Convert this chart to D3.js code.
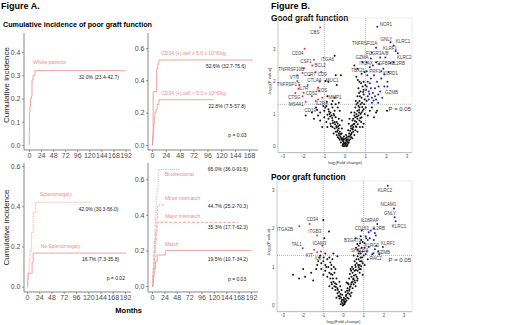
<!DOCTYPE html>
<html>
<head>
<meta charset="utf-8">
<script src="https://cdn.jsdelivr.net/npm/d3@7"></script>
<style>
  body { margin: 0; background: #fff; }
  svg { font-family: "Liberation Sans", Arial, sans-serif; }
</style>
</head>
<body>
<div id="chart"></div>
<script>
// ---------- Figure A data: cumulative incidence (month, value) ----------
const monthTicks192 = [0, 24, 48, 72, 96, 120, 144, 168, 192];
const monthTicks168 = [0, 24, 48, 72, 96, 120, 144, 168];

const wholePatients = [[0, 0], [0.5, 0.06], [1, 0.14], [2, 0.17], [3, 0.2], [5, 0.21], [6, 0.28], [8, 0.3], [12, 0.32], [192, 0.32]];

const cd34High = [[0, 0], [1, 0.05], [2, 0.33], [7, 0.33], [8, 0.47], [10, 0.5], [12, 0.526], [175, 0.526]];
const cd34Low = [[0, 0], [1, 0.03], [2, 0.08], [3, 0.13], [4, 0.17], [5, 0.2], [7, 0.22], [9, 0.25], [12, 0.28], [107, 0.28]];

const splenomegaly = [[0, 0], [2, 0.07], [4, 0.13], [6, 0.18], [9, 0.27], [12, 0.37], [17, 0.42], [123, 0.42]];
const noSplenomegaly = [[0, 0], [1, 0.035], [2, 0.067], [9, 0.067], [10, 0.12], [12, 0.167], [194, 0.167]];

const biDirectional = [[0, 0], [2, 0.1], [4, 0.25], [6, 0.4], [8, 0.5], [10, 0.55], [12, 0.655], [54, 0.655]];
const minorMismatch = [[0, 0], [2, 0.08], [4, 0.2], [6, 0.3], [8, 0.38], [11, 0.455], [23, 0.455]];
const majorMismatch = [[0, 0], [2, 0.06], [4, 0.15], [6, 0.25], [8, 0.31], [10, 0.358], [167, 0.358]];
const matchGroup = [[0, 0], [2, 0.05], [4, 0.1], [7, 0.14], [10, 0.174], [26, 0.2], [193, 0.2]];

// annotations: [text, month, value, kind]
const notesWhole = [
  ['Whole patients', 8, 0.357, 'group'],
  ['32.0% (23.4-42.7)', 139, 0.292, 'est']
];
const notesCd34 = [
  ['CD34 (+) cell \u2265 5.0 x 10^6/kg', 16, 0.565, 'group'],
  ['52.6% (32.7-75.6)', 128, 0.49, 'est'],
  ['CD34 (+) cell < 5.0 x 10^6/kg', 16, 0.32, 'group'],
  ['22.8% (7.5-57.8)', 130, 0.241, 'est'],
  ['p = 0.03', 148, 0.058, 'est']
];
const notesSpleen = [
  ['Splenomegaly', 25.5, 0.461, 'group'],
  ['42.0% (30.3-56.0)', 140, 0.385, 'est'],
  ['No Splenomegaly', 26.8, 0.2025, 'group'],
  ['16.7% (7.3-35.8)', 144, 0.138, 'est'],
  ['p = 0.02', 174, 0.042, 'est']
];
const notesAbo = [
  ['Bi-directional', 25, 0.629, 'group'],
  ['65.0% (36.0-91.5)', 147, 0.657, 'est'],
  ['Minor mismatch', 25, 0.491, 'group'],
  ['44.7% (25.2-70.3)', 147, 0.451, 'est'],
  ['Major mismatch', 25, 0.395, 'group'],
  ['35.3% (17.7-62.3)', 147, 0.33, 'est'],
  ['Match', 25, 0.236, 'group'],
  ['19.5% (10.7-34.2)', 147, 0.15, 'est'],
  ['p = 0.03', 165, 0.04, 'est']
];

// ---------- Figure B data: volcano plots (log2 FC, -log10 P) ----------
const volcanoXTicks = [-3, -2, -1, 0, 1, 2, 3];
const volcanoYTicks = [0, 1, 2, 3];

// labelled genes: [gene, fc, p, labelFc, labelP, group]
const goodGenes = [
  ['CBS', -1.2, 3.68, -1.45, 3.52, 'down'],
  ['CD34', -1.95, 3.02, -2.28, 2.88, 'down'],
  ['ITGA6', -0.5, 2.8, -0.85, 2.7, 'ns'],
  ['CSF1', -1.5, 2.68, -1.88, 2.62, 'down'],
  ['BCL2', -1.58, 2.5, -1.2, 2.5, 'down'],
  ['TNFRSF10B', -1.98, 2.42, -2.6, 2.38, 'down'],
  ['CCR7', -2.05, 2.27, -1.7, 2.22, 'down'],
  ['CD9', -1.42, 2.3, -1.1, 2.22, 'down'],
  ['VTN', -2.3, 2.02, -2.45, 2.12, 'down'],
  ['CTLA4', -1.22, 2.0, -1.48, 2.04, 'down'],
  ['MUC1', -0.95, 2.02, -0.62, 2.05, 'ns'],
  ['TNFRSF17', -2.2, 1.9, -2.75, 1.92, 'down'],
  ['IL7R', -2.25, 1.78, -2.0, 1.8, 'down'],
  ['CD52', -2.0, 1.66, -1.62, 1.63, 'down'],
  ['ICOS', -1.3, 1.82, -1.12, 1.72, 'down'],
  ['CTSG', -2.05, 1.55, -2.45, 1.5, 'down'],
  ['MMP1', -0.85, 1.55, -0.48, 1.52, 'ns'],
  ['MS4A1', -1.9, 1.38, -2.35, 1.3, 'down'],
  ['IL2RA', -1.42, 1.4, -1.12, 1.33, 'down'],
  ['CD19', -1.35, 1.12, -1.68, 1.1, 'ns'],
  ['NCR1', 1.56, 3.7, 1.98, 3.76, 'up'],
  ['GNLY', 2.2, 3.22, 2.0, 3.3, 'up'],
  ['KLRC1', 2.35, 3.12, 2.8, 3.24, 'up'],
  ['TNFRSF11A', 1.5, 3.05, 0.95, 3.19, 'up'],
  ['KLRF1', 2.45, 2.95, 2.17, 3.04, 'up'],
  ['GZMA', 1.25, 2.72, 0.82, 2.75, 'up'],
  ['FCGR3A/B', 1.7, 2.75, 1.56, 2.86, 'up'],
  ['KLRC2', 2.55, 2.88, 2.86, 2.74, 'up'],
  ['ITGAX', 1.35, 2.5, 1.02, 2.56, 'up'],
  ['TGFBR3', 2.2, 2.58, 1.92, 2.56, 'up'],
  ['IL2RB', 2.35, 2.6, 2.6, 2.56, 'up'],
  ['TBX21', 1.05, 2.32, 0.64, 2.36, 'up'],
  ['PRF1', 1.75, 2.32, 1.45, 2.32, 'up'],
  ['KLRD1', 1.9, 2.22, 2.2, 2.25, 'up'],
  ['GZMB', 2.05, 1.85, 2.25, 1.68, 'up']
];

const goodDown = [[-1.1, 1.5], [-1.25, 1.72], [-1.7, 2.2], [-2.3, 2.2], [-1.15, 2.3], [-1.3, 1.45], [-1.8, 1.9], [-1.6, 1.55], [-2.4, 1.65]];
const goodUp = [[1.05, 1.4], [1.1, 1.55], [1.15, 1.7], [1.05, 1.85], [1.2, 1.95], [1.3, 1.5], [1.35, 1.65], [1.25, 2.1], [1.45, 1.8],
  [1.5, 1.45], [1.55, 2.0], [1.4, 2.2], [1.7, 1.7], [1.75, 2.1], [1.6, 1.35], [1.85, 2.4], [1.9, 1.85], [1.1, 2.0], [1.2, 2.45],
  [1.05, 2.6], [1.3, 1.35], [1.45, 1.55], [1.65, 2.55], [1.8, 1.5], [2.05, 2.0], [1.15, 1.45], [1.02, 1.75], [1.25, 1.8],
  [1.5, 2.6], [1.3, 2.9], [1.6, 1.6], [2.1, 2.3], [1.95, 2.75], [1.08, 2.2], [1.38, 1.42], [1.18, 1.62], [1.62, 1.85]];
const goodNs = [[-0.1, 0.05], [0, 0.02], [0.05, 0.08], [0.12, 0.04], [-0.05, 0.1], [0.08, 0], [-0.12, 0.02], [0.02, 0.12], [-0.08, 0.15], [0.15, 0.1],
  [-0.25, 0.2], [-0.2, 0.12], [-0.3, 0.25], [-0.15, 0.22], [0.2, 0.18], [0.25, 0.22], [0.3, 0.28], [0.18, 0.12], [0.22, 0.3], [-0.22, 0.3],
  [-0.35, 0.28], [0.35, 0.25], [0.1, 0.2], [-0.1, 0.25], [-0.4, 0.35], [-0.45, 0.45], [-0.35, 0.5], [-0.5, 0.55], [-0.3, 0.4], [-0.55, 0.4],
  [-0.25, 0.45], [0.3, 0.38], [0.4, 0.45], [0.35, 0.55], [0.45, 0.35], [0.5, 0.5], [0.25, 0.48], [0.55, 0.6], [0.4, 0.6], [-0.6, 0.6],
  [-0.4, 0.58], [0.3, 0.55], [0.6, 0.45], [-0.2, 0.38], [0.2, 0.4], [-0.7, 0.7], [-0.6, 0.8], [-0.5, 0.75], [-0.8, 0.85], [-0.45, 0.9],
  [-0.65, 0.95], [-0.9, 0.75], [-0.35, 0.7], [-0.75, 1.0], [-0.55, 1.0], [0.45, 0.7], [0.55, 0.75], [0.6, 0.85], [0.5, 0.9], [0.7, 0.8],
  [0.65, 0.95], [0.4, 0.85], [0.75, 1.0], [0.35, 0.65], [0.8, 0.9], [0.55, 1.0], [-0.3, 0.85], [-1.0, 0.9], [0.9, 0.7], [-1.0, 1.1],
  [-0.8, 1.15], [-0.6, 1.2], [-1.2, 1.05], [-0.9, 1.25], [-0.5, 1.1], [-1.4, 1.2], [-0.7, 1.05], [0.6, 1.1], [0.7, 1.2], [0.8, 1.05],
  [0.9, 1.15], [0.65, 1.25], [0.75, 1.3], [0.5, 1.2], [0.95, 1.0], [1.3, 1.2], [1.5, 1.05], [1.2, 1.1], [2.03, 1.1], [1.55, 1.1],
  [-1.6, 1.05], [-1.9, 0.95], [-1.5, 0.85], [-1.2, 0.8], [0.7, 1.4], [0.8, 1.5], [0.9, 1.6], [0.6, 1.55], [0.75, 1.7], [0.85, 1.85],
  [0.95, 1.45], [0.65, 1.8], [0.9, 2.0], [0.7, 2.0], [0.55, 2.15], [0.8, 2.25], [0.95, 2.3], [0.6, 2.4], [0.45, 2.5], [0.85, 2.6],
  [0.9, 1.75], [-0.3, 1.35], [-0.5, 1.5], [-0.4, 1.9], [-0.2, 2.2], [-0.45, 2.2], [-0.8, 2.0], [-0.6, 1.4], [-0.15, 0.55],
  [0.15, 0.5], [-0.05, 0.3], [0.05, 0.35], [0.85, 0.6], [-0.85, 0.6], [1.1, 0.95], [-1.1, 0.6], [0.3, 1.05], [-0.25, 1.1],
  [-0.05, 0.0], [0.03, 0.05], [-0.08, 0.08], [0.1, 0.14], [-0.12, 0.18], [0.14, 0.22], [-0.18, 0.26], [0.06, 0.18], [-0.02, 0.22],
  [0.27, 0.35], [-0.28, 0.34], [0.33, 0.42], [-0.38, 0.45], [0.38, 0.52], [-0.42, 0.62], [0.42, 0.68], [-0.48, 0.68], [0.48, 0.78],
  [-0.58, 0.72], [0.52, 0.62], [-0.62, 0.88], [0.62, 0.68], [-0.68, 0.62], [0.68, 1.05], [-0.72, 0.92], [0.72, 0.6], [-0.78, 1.08],
  [0.78, 0.75], [-0.85, 0.98], [0.85, 1.1], [-0.52, 0.95], [0.58, 0.92], [-0.33, 0.62], [0.28, 0.62], [-0.4, 0.75], [0.36, 0.8],
  [-0.95, 1.2], [0.92, 1.3], [-1.05, 1.25], [1.0, 1.2], [0.82, 1.35], [0.72, 1.55], [0.62, 1.35], [0.88, 1.68], [0.68, 1.65],
  [0.52, 1.4], [0.78, 1.95], [0.98, 1.9], [0.62, 2.05], [-0.65, 1.3], [-0.35, 1.2], [-0.15, 0.8], [0.18, 0.7], [0.22, 0.85],
  [-0.25, 0.65], [1.4, 0.9], [-1.3, 0.95], [-0.88, 1.38], [0.46, 1.05], [-0.45, 1.3], [0.16, 0.3], [-0.16, 0.4], [0.09, 0.28],
  [-0.07, 0.2], [0.0, 0.08], [0.04, 0.25], [-0.3, 0.55], [0.45, 0.95], [0.55, 1.3], [0.83, 1.22], [0.68, 1.12], [0.74, 0.88]];

const poorGenes = [
  ['KLRC2', 2.19, 3.11, 2.05, 3.0, 'up'],
  ['NCAM1', 2.5, 2.52, 2.22, 2.62, 'up'],
  ['GNLY', 2.53, 2.29, 2.3, 2.38, 'up'],
  ['KLRC1', 2.58, 2.19, 2.75, 2.06, 'up'],
  ['IL18RAP', 1.67, 2.12, 1.3, 2.22, 'up'],
  ['CD163', 1.25, 1.9, 0.9, 1.99, 'up'],
  ['IL2RB', 1.55, 1.88, 1.75, 1.99, 'up'],
  ['B3GAT1', 1.12, 1.75, 0.45, 1.7, 'up'],
  ['KLRF1', 1.95, 1.52, 2.2, 1.62, 'up'],
  ['SH2D1A', 1.1, 1.34, 0.8, 1.42, 'up'],
  ['KLRC3', 1.55, 1.46, 1.4, 1.55, 'up'],
  ['GZMB', 1.72, 1.4, 1.98, 1.37, 'up'],
  ['RAC2', 1.42, 1.33, 1.6, 1.22, 'up'],
  ['CD34', -1.68, 2.12, -1.55, 2.23, 'down'],
  ['ITGA2B', -2.19, 2.06, -2.9, 1.98, 'down'],
  ['ITGB3', -1.3, 1.82, -1.42, 1.93, 'down'],
  ['ICAM3', -1.05, 1.55, -1.2, 1.62, 'down'],
  ['TAL1', -2.02, 1.49, -2.32, 1.58, 'down'],
  ['KIT', -1.3, 1.38, -1.7, 1.31, 'down'],
  ['IL6', -0.98, 1.25, -1.25, 1.22, 'ns']
];

const poorDown = [[-1.45, 1.45], [-1.12, 1.4]];
const poorUp = [[1.1, 1.8], [1.2, 1.7], [1.5, 1.7], [1.6, 1.82], [1.05, 1.5], [1.3, 1.75], [1.62, 1.55], [1.48, 1.36], [1.78, 1.33],
  [1.25, 1.52], [1.15, 1.4], [1.5, 2.0], [1.35, 1.95], [1.05, 1.62]];
const poorNs = [[0, 0.02], [-0.05, 0.06], [0.06, 0.04], [-0.1, 0.1], [0.1, 0.09], [0.03, 0.12], [-0.14, 0.03], [0.15, 0.13], [-0.02, 0.15],
  [-0.2, 0.18], [-0.25, 0.25], [-0.3, 0.32], [-0.15, 0.3], [0.18, 0.2], [0.25, 0.18], [0.3, 0.3], [0.22, 0.32], [0.12, 0.25], [-0.35, 0.2],
  [0.35, 0.25], [-0.22, 0.35], [0.4, 0.33], [-0.4, 0.4], [-0.45, 0.5], [-0.55, 0.45], [-0.35, 0.55], [-0.6, 0.6], [-0.3, 0.45], [-0.5, 0.62],
  [0.3, 0.42], [0.35, 0.5], [0.45, 0.45], [0.4, 0.6], [0.5, 0.55], [0.55, 0.65], [0.25, 0.55], [0.6, 0.5], [0.45, 0.62], [-0.7, 0.5],
  [0.2, 0.45], [-0.65, 0.7], [-0.7, 0.85], [-0.55, 0.8], [-0.8, 0.75], [-0.6, 0.95], [-0.9, 0.9], [-0.45, 0.85], [-1.0, 0.8], [-0.75, 1.0],
  [0.5, 0.7], [0.6, 0.8], [0.55, 0.9], [0.65, 0.75], [0.7, 0.9], [0.75, 1.0], [0.6, 1.0], [0.45, 0.85], [0.8, 0.85], [0.85, 0.95],
  [0.4, 0.75], [0.7, 0.7], [-2.5, 0.8], [-2.2, 0.7], [-1.9, 0.75], [-1.6, 0.85], [-1.5, 0.65], [-2.0, 0.95], [-1.35, 0.95], [-0.9, 1.05],
  [-1.0, 1.15], [-0.8, 1.2], [-1.1, 1.1], [-0.7, 1.25], [-1.2, 1.25], [-0.55, 1.2], [-1.3, 1.05], [0.65, 1.1], [0.75, 1.2], [0.8, 1.05],
  [0.9, 1.15], [0.7, 1.28], [0.85, 1.25], [0.95, 1.1], [0.55, 1.15], [1.05, 1.05], [1.2, 1.2], [-0.3, 1.28], [-0.6, 1.05], [0.8, 1.4],
  [0.9, 1.5], [0.75, 1.55], [0.95, 1.65], [0.85, 1.8], [0.7, 1.45], [0.9, 1.95], [0.6, 1.75], [-0.72, 1.92], [-1.0, 2.22], [-0.9, 1.35],
  [-0.5, 1.35], [-0.95, 1.75], [-1.15, 1.3], [-0.1, 0.4], [0.1, 0.35], [0.15, 0.6], [-0.2, 0.62], [0.95, 0.8], [1.0, 1.3], [0.35, 0.95],
  [-0.04, 0.0], [0.04, 0.08], [-0.08, 0.14], [0.08, 0.17], [-0.12, 0.2], [0.14, 0.28], [-0.18, 0.24], [0.02, 0.2], [-0.06, 0.28],
  [0.28, 0.38], [-0.28, 0.4], [0.32, 0.48], [-0.38, 0.48], [0.38, 0.55], [-0.42, 0.58], [0.48, 0.68], [-0.52, 0.7], [0.52, 0.78],
  [0.58, 0.6], [-0.58, 0.55], [0.62, 0.92], [0.68, 0.65], [0.72, 1.05], [0.78, 0.95], [0.82, 1.15], [0.88, 1.02], [0.92, 1.25],
  [0.58, 1.05], [0.64, 1.2], [0.48, 0.95], [0.42, 1.0], [0.75, 1.35], [0.85, 1.35], [0.95, 1.4], [0.68, 1.6], [0.82, 1.62],
  [0.5, 1.3], [0.88, 1.7], [0.62, 1.5], [0.22, 0.58], [0.28, 0.7], [0.32, 0.82], [0.38, 0.9], [-0.35, 0.7], [-0.4, 0.95],
  [-0.48, 1.0], [-0.62, 0.82], [-0.85, 1.0], [-1.1, 0.95], [-1.25, 1.15], [-0.65, 1.12], [0.18, 0.38], [-0.16, 0.5]];

// ---------- shared styles ----------
const pink = '#F09A9A';
const pinkText = '#EE8A8A';
const axisColor = '#555';
const tickText = '#4d4d4d';
const groupColor = { up: '#2222AA', down: '#E0304A', ns: '#111' };

const svg = d3.select('#chart').append('svg')
  .attr('width', 520)
  .attr('height', 325);

svg.append('rect').attr('width', 520).attr('height', 325).attr('fill', '#fff');

// ---------- Figure A ----------
svg.append('text').attr('x', 1).attr('y', 9)
  .style('font-size', '9px').style('font-weight', 'bold').text('Figure A.');
svg.append('text').attr('x', 3).attr('y', 26.5)
  .style('font-size', '7.2px').style('font-weight', 'bold')
  .text('Cumulative incidence of poor graft function');

function drawCifPanel(p) {
  const x = d3.scaleLinear().domain(p.xDomain).range(p.xRange);
  const y = d3.scaleLinear().domain(p.yDomain).range(p.yRange);
  const g = svg.append('g');

  // axis lines (ggplot classic)
  g.append('line')
    .attr('x1', p.box.l).attr('x2', p.box.l).attr('y1', p.box.t).attr('y2', p.box.b)
    .attr('stroke', axisColor).attr('stroke-width', 0.7);
  g.append('line')
    .attr('x1', p.box.l).attr('x2', p.box.r).attr('y1', p.box.b).attr('y2', p.box.b)
    .attr('stroke', axisColor).attr('stroke-width', 0.7);

  // y ticks
  const yAxis = g.append('g')
    .attr('transform', `translate(${p.box.l},0)`)
    .call(d3.axisLeft(y).tickValues(p.yTicks).tickFormat(d3.format('.1f')).tickSize(2).tickPadding(1.5));
  yAxis.select('.domain').remove();
  yAxis.selectAll('line').attr('stroke', axisColor).attr('stroke-width', 0.6);
  yAxis.selectAll('text').attr('fill', tickText).style('font-size', '7px').style('font-family', null);

  // x ticks
  const xAxis = g.append('g')
    .attr('transform', `translate(0,${p.box.b})`)
    .call(d3.axisBottom(x).tickValues(p.xTicks).tickFormat(d3.format('d')).tickSize(2).tickPadding(1.5));
  xAxis.select('.domain').remove();
  xAxis.selectAll('line').attr('stroke', axisColor).attr('stroke-width', 0.6);
  xAxis.selectAll('text').attr('fill', tickText).style('font-size', '7px').style('font-family', null);

  // step curves
  const line = d3.line()
    .x(d => x(d[0]))
    .y(d => y(d[1]))
    .curve(d3.curveStepAfter);

  p.series.forEach(s => {
    g.append('path')
      .attr('d', line(s.values))
      .attr('fill', 'none')
      .attr('stroke', pink)
      .attr('stroke-width', 0.9)
      .attr('stroke-dasharray', s.dash || null);
  });

  // annotations
  g.selectAll('.note')
    .data(p.notes)
    .enter()
    .append('text')
    .attr('class', 'note')
    .attr('x', d => x(d[1]))
    .attr('y', d => y(d[2]))
    .attr('dy', '0.35em')
    .attr('text-anchor', d => d[3] === 'group' ? 'start' : 'middle')
    .attr('fill', d => d[3] === 'group' ? pinkText : '#222')
    .style('font-size', '5px')
    .text(d => d[0]);
}

drawCifPanel({
  box: { l: 24, t: 33, r: 131, b: 150 },
  xDomain: [0, 192], xRange: [29, 125.5],
  yDomain: [0, 0.4], yRange: [145, 52],
  xTicks: monthTicks192, yTicks: [0, 0.1, 0.2, 0.3, 0.4],
  series: [{ values: wholePatients }],
  notes: notesWhole
});

drawCifPanel({
  box: { l: 148, t: 33, r: 258, b: 150 },
  xDomain: [0, 168], xRange: [152, 249],
  yDomain: [0, 0.6], yRange: [145, 48],
  xTicks: monthTicks168, yTicks: [0, 0.2, 0.4, 0.6],
  series: [{ values: cd34High }, { values: cd34Low }],
  notes: notesCd34
});

drawCifPanel({
  box: { l: 24, t: 163, r: 131, b: 292 },
  xDomain: [0, 192], xRange: [27, 125],
  yDomain: [0, 0.6], yRange: [286.7, 166],
  xTicks: monthTicks192, yTicks: [0, 0.2, 0.4, 0.6],
  series: [{ values: splenomegaly, dash: '1,1' }, { values: noSplenomegaly }],
  notes: notesSpleen
});

drawCifPanel({
  box: { l: 148, t: 163, r: 258, b: 292 },
  xDomain: [0, 192], xRange: [152, 251],
  yDomain: [0, 0.6], yRange: [286, 179.3],
  xTicks: monthTicks192, yTicks: [0, 0.2, 0.4, 0.6],
  series: [
    { values: biDirectional, dash: '1,1.2' },
    { values: minorMismatch, dash: '2,1.5' },
    { values: majorMismatch, dash: '3,1.5' },
    { values: matchGroup }
  ],
  notes: notesAbo
});

// shared axis titles
[85, 227.5].forEach(cy => {
  svg.append('text')
    .attr('transform', `translate(8.5,${cy}) rotate(-90)`)
    .attr('text-anchor', 'middle')
    .attr('fill', '#222')
    .style('font-size', '8px')
    .text('Cumulative incidence');
});

svg.append('text')
  .attr('x', 128.7).attr('y', 312.5)
  .attr('text-anchor', 'middle')
  .style('font-size', '7.5px').style('font-weight', 'bold')
  .text('Months');

// ---------- Figure B ----------
svg.append('text').attr('x', 271).attr('y', 9)
  .style('font-size', '9px').style('font-weight', 'bold').text('Figure B.');

function drawVolcano(v) {
  const x = d3.scaleLinear().domain([-3, 3]).range(v.xRange);
  const y = d3.scaleLinear().domain([0, 3]).range(v.yRange);
  const g = svg.append('g');

  g.append('text')
    .attr('x', 271).attr('y', v.titleY)
    .style('font-size', '8.3px').style('font-weight', 'bold')
    .text(v.title);

  // frame
  g.append('rect')
    .attr('x', v.box.l).attr('y', v.box.t)
    .attr('width', v.box.r - v.box.l).attr('height', v.box.b - v.box.t)
    .attr('fill', 'none').attr('stroke', '#ddd').attr('stroke-width', 0.6);
  g.append('line')
    .attr('x1', v.box.l).attr('x2', v.box.r).attr('y1', v.box.b).attr('y2', v.box.b)
    .attr('stroke', '#999').attr('stroke-width', 0.6);
  g.append('line')
    .attr('x1', v.box.l).attr('x2', v.box.l).attr('y1', v.box.t).attr('y2', v.box.b)
    .attr('stroke', '#bbb').attr('stroke-width', 0.6);

  // ticks
  g.selectAll('.xt').data(volcanoXTicks).enter().append('text')
    .attr('x', d => x(d)).attr('y', v.box.b + 5.5)
    .attr('text-anchor', 'middle').attr('fill', tickText)
    .style('font-size', '4.5px').text(d => d);
  g.selectAll('.yt').data(volcanoYTicks).enter().append('text')
    .attr('x', v.box.l - 2.5).attr('y', d => y(d)).attr('dy', '0.35em')
    .attr('text-anchor', 'end').attr('fill', tickText)
    .style('font-size', '4.5px').text(d => d);

  // axis titles
  const xt = g.append('text')
    .attr('x', x(0)).attr('y', v.box.b + 11.5)
    .attr('text-anchor', 'middle').attr('fill', '#333')
    .style('font-size', '4.3px');
  xt.append('tspan').text('log');
  xt.append('tspan').attr('dy', 1).style('font-size', '3px').text('2');
  xt.append('tspan').attr('dy', -1).text('(Fold change)');

  const yt = g.append('text')
    .attr('transform', `translate(${v.box.l - 7},${(v.box.t + v.box.b) / 2 - 4}) rotate(-90)`)
    .attr('text-anchor', 'middle').attr('fill', '#333')
    .style('font-size', '4.3px');
  yt.append('tspan').text('-log');
  yt.append('tspan').attr('dy', 1).style('font-size', '3px').text('10');
  yt.append('tspan').attr('dy', -1).text('(P value)');

  // threshold lines
  [-1, 1].forEach(fc => {
    g.append('line')
      .attr('x1', x(fc)).attr('x2', x(fc)).attr('y1', v.box.t).attr('y2', v.box.b)
      .attr('stroke', '#666').attr('stroke-width', 0.5).attr('stroke-dasharray', '1,1');
  });
  g.append('line')
    .attr('x1', v.box.l).attr('x2', v.box.r).attr('y1', y(-Math.log10(0.05))).attr('y2', y(-Math.log10(0.05)))
    .attr('stroke', '#666').attr('stroke-width', 0.5).attr('stroke-dasharray', '1,1');
  g.append('text')
    .attr('x', v.box.r - 1).attr('y', y(-Math.log10(0.05)) + 7)
    .attr('text-anchor', 'end').attr('fill', '#333')
    .style('font-size', '6px').text('P = 0.05');

  // points
  const pts = [
    ...v.ns.map(d => ({ fc: d[0], p: d[1], group: 'ns' })),
    ...v.down.map(d => ({ fc: d[0], p: d[1], group: 'down' })),
    ...v.up.map(d => ({ fc: d[0], p: d[1], group: 'up' })),
    ...v.genes.map(d => ({ fc: d[1], p: d[2], group: d[5] }))
  ];
  g.selectAll('.pt').data(pts).enter().append('circle')
    .attr('cx', d => x(d.fc)).attr('cy', d => y(d.p))
    .attr('r', 1)
    .attr('fill', d => groupColor[d.group]);

  // gene labels
  g.selectAll('.gene').data(v.genes).enter().append('text')
    .attr('x', d => x(d[3])).attr('y', d => y(d[4])).attr('dy', '0.35em')
    .attr('text-anchor', 'middle').attr('fill', '#444')
    .style('font-size', '4.5px')
    .text(d => d[0]);
}

drawVolcano({
  title: 'Good graft function', titleY: 21,
  box: { l: 278, t: 18, r: 412, b: 152.7 },
  xRange: [282.9, 407.1], yRange: [146.3, 49.4],
  genes: goodGenes, up: goodUp, down: goodDown, ns: goodNs
});

drawVolcano({
  title: 'Poor graft function', titleY: 179.5,
  box: { l: 277, t: 181, r: 412, b: 311.7 },
  xRange: [282.9, 404.1], yRange: [305.5, 190],
  genes: poorGenes, up: poorUp, down: poorDown, ns: poorNs
});
</script>
</body>
</html>
